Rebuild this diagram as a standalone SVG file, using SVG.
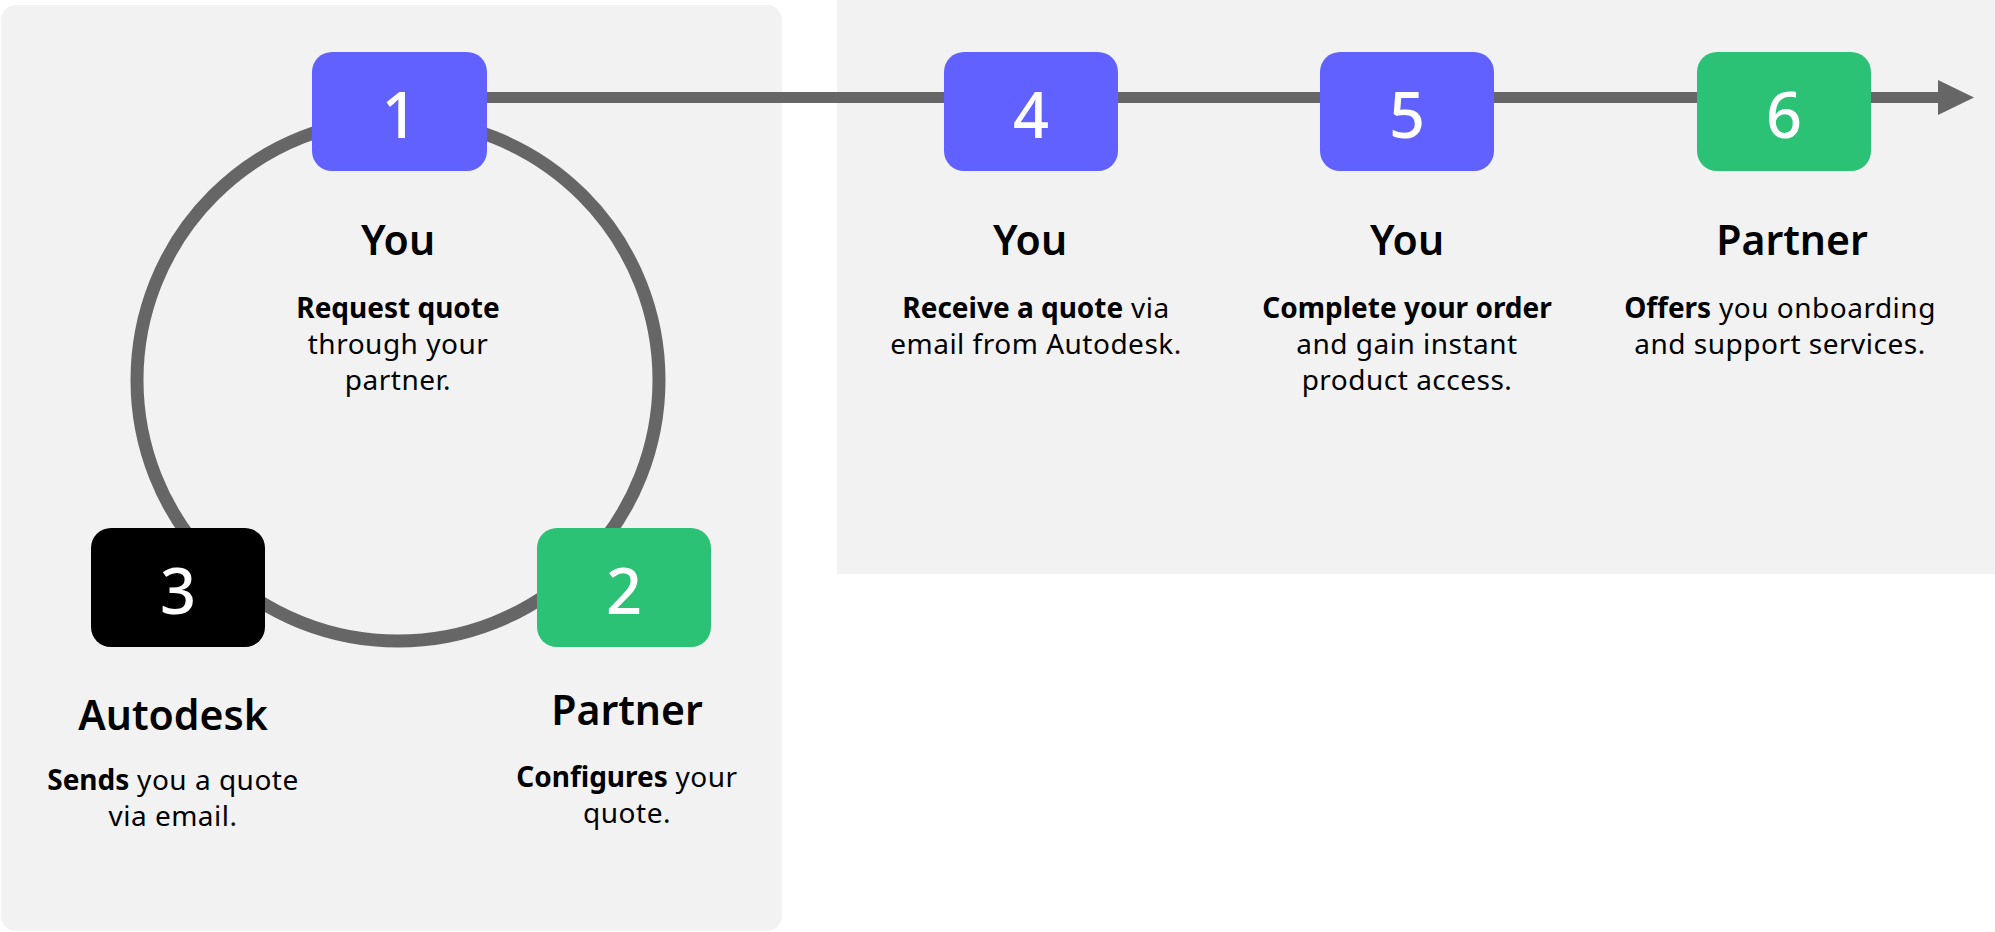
<svg xmlns="http://www.w3.org/2000/svg" width="1995" height="932" viewBox="0 0 1995 932">
<style>
.bg{fill:#f2f2f2}
.box{stroke:none}
.num{font-family:"Noto Sans","Open Sans",sans-serif;font-size:63px;font-weight:500;fill:#ffffff;text-anchor:middle}
.ttl{font-family:"Noto Sans","Open Sans",sans-serif;font-size:41px;font-weight:600;fill:#000000;text-anchor:middle}
.dsc{font-family:"Noto Sans","Open Sans",sans-serif;font-size:28px;font-weight:400;letter-spacing:0.5px;fill:#000000;text-anchor:middle}
.b{font-weight:700;letter-spacing:0}
.conn{fill:none;stroke:#666666}
</style>
<rect class="bg" x="1" y="5" width="781" height="926" rx="15"/>
<rect class="bg" x="837" y="0" width="1158" height="574"/>
<g id="connectors">
<circle class="conn" cx="398" cy="380" r="261" stroke-width="13"/>
<line class="conn" x1="480" y1="97.5" x2="1942" y2="97.5" stroke-width="11"/>
<polygon points="1938,80 1974,97.5 1938,115" fill="#666666"/>
</g>
<g id="node1">
<rect class="box" x="312" y="52" width="175" height="119" rx="20" fill="#6161ff"/>
<text class="num" x="399.5" y="138">1</text>
<text class="ttl" x="398" y="255">You</text>
<text class="dsc" x="398" y="318"><tspan class="b">Request quote</tspan></text>
<text class="dsc" x="398" y="354">through your</text>
<text class="dsc" x="398" y="390">partner.</text>
</g>
<g id="node2">
<rect class="box" x="537" y="528" width="174" height="119" rx="20" fill="#2bc275"/>
<text class="num" x="624" y="614">2</text>
<text class="ttl" x="627" y="725">Partner</text>
<text class="dsc" x="627" y="787"><tspan class="b">Configures</tspan> your</text>
<text class="dsc" x="627" y="823">quote.</text>
</g>
<g id="node3">
<rect class="box" x="91" y="528" width="174" height="119" rx="20" fill="#000000"/>
<text class="num" x="178" y="614">3</text>
<text class="ttl" x="173" y="730">Autodesk</text>
<text class="dsc" x="173" y="790"><tspan class="b">Sends</tspan> you a quote</text>
<text class="dsc" x="173" y="826">via email.</text>
</g>
<g id="node4">
<rect class="box" x="944" y="52" width="174" height="119" rx="20" fill="#6161ff"/>
<text class="num" x="1031" y="138">4</text>
<text class="ttl" x="1030" y="255">You</text>
<text class="dsc" x="1036" y="318"><tspan class="b">Receive a quote</tspan> via</text>
<text class="dsc" x="1036" y="354">email from Autodesk.</text>
</g>
<g id="node5">
<rect class="box" x="1320" y="52" width="174" height="119" rx="20" fill="#6161ff"/>
<text class="num" x="1407" y="138">5</text>
<text class="ttl" x="1407" y="255">You</text>
<text class="dsc" x="1407" y="318"><tspan class="b">Complete your order</tspan></text>
<text class="dsc" x="1407" y="354">and gain instant</text>
<text class="dsc" x="1407" y="390">product access.</text>
</g>
<g id="node6">
<rect class="box" x="1697" y="52" width="174" height="119" rx="20" fill="#2bc275"/>
<text class="num" x="1784" y="138">6</text>
<text class="ttl" x="1792" y="255">Partner</text>
<text class="dsc" x="1780" y="318"><tspan class="b">Offers</tspan> you onboarding</text>
<text class="dsc" x="1780" y="354">and support services.</text>
</g>
</svg>
